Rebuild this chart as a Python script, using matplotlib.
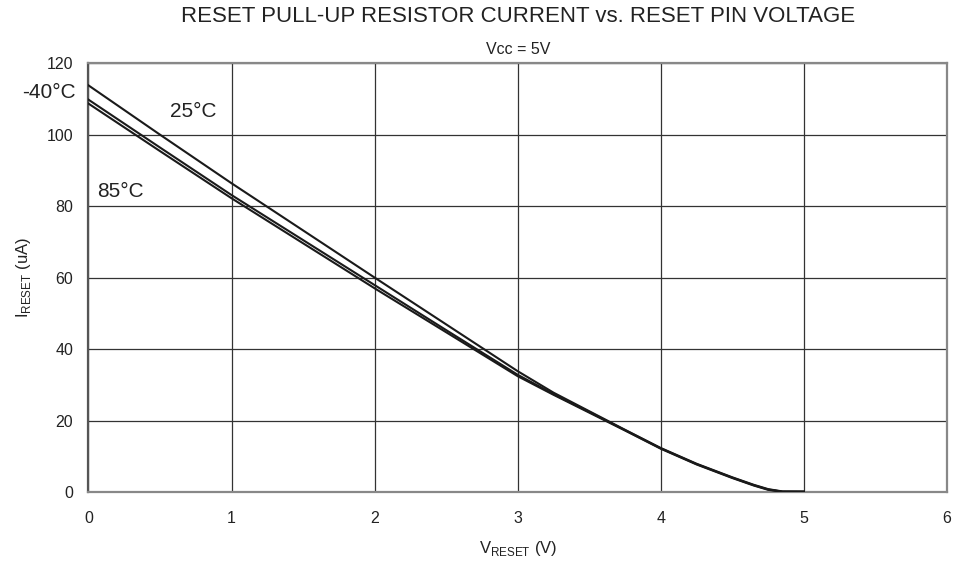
import matplotlib
matplotlib.use("Agg")
import matplotlib.pyplot as plt

plt.rcParams['font.family'] = ['Liberation Sans', 'DejaVu Sans']
plt.rcParams['mathtext.fontset'] = 'custom'
plt.rcParams['mathtext.rm'] = 'Liberation Sans'

v_reset = [0, 0.5, 1, 1.5, 2, 2.5, 3, 3.25, 3.5, 3.75, 4, 4.25, 4.5, 4.65, 4.75, 4.85, 5]
i_m40 = [113.8, 100.0, 86.4, 73.2, 60.0, 46.9, 33.8, 27.8, 22.6, 17.4, 12.3, 7.9, 4.1, 2.0, 0.8, 0.15, 0.1]
i_25 = [109.8, 96.4, 83.1, 70.5, 57.9, 45.3, 32.8, 27.4, 22.4, 17.3, 12.2, 7.8, 4.0, 1.9, 0.7, 0.1, 0.1]
i_85 = [108.7, 95.4, 82.2, 69.6, 57.0, 44.7, 32.4, 27.2, 22.2, 17.2, 12.1, 7.7, 3.9, 1.8, 0.6, 0.05, 0.05]
x_ticks = [0, 1, 2, 3, 4, 5, 6]
y_ticks = [0, 20, 40, 60, 80, 100, 120]

fig = plt.figure(figsize=(9.63, 5.64), dpi=100)
ax = fig.add_axes([0.0918, 0.1277, 0.8916, 0.7603])

for s in (i_m40, i_25, i_85):
    ax.plot(v_reset, s, color='#1a1a1a', lw=1.5, zorder=3)

ax.set_xlim(0, 6)
ax.set_ylim(0, 120)
ax.set_xticks(x_ticks)
ax.set_yticks(y_ticks)
ax.tick_params(length=0, labelsize=11.5, colors='#222222')
ax.tick_params(axis='x', pad=14)
ax.tick_params(axis='y', pad=11)
ax.grid(True, color='#333333', lw=0.9)
for sp in ax.spines.values():
    sp.set_color('#888888')
    sp.set_linewidth(1.6)
ax.spines['left'].set_color('#555555')

ax.text(-0.463, 111.9, '-40°C', fontsize=15, ha='left', va='center', clip_on=False, color='#222222')
ax.text(0.569, 106.4, '25°C', fontsize=15, ha='left', va='center', color='#222222')
ax.text(0.062, 84.0, '85°C', fontsize=15, ha='left', va='center', color='#222222')

ax.set_xlabel(r'V$_{\mathregular{RESET}}$ (V)', fontsize=12, labelpad=9, color='#222222')
ax.set_ylabel(r'I$_{\mathregular{RESET}}$ (uA)', fontsize=12, labelpad=10, color='#222222')

fig.text(518 / 963, 1 - 16.5 / 564, 'RESET PULL-UP RESISTOR CURRENT vs. RESET PIN VOLTAGE',
         ha='center', va='center', fontsize=16, color='#222222')
fig.text(518 / 963, 1 - 50 / 564, 'Vcc = 5V', ha='center', va='center', fontsize=11.5, color='#222222')

fig.savefig('out.png', dpi=100)
